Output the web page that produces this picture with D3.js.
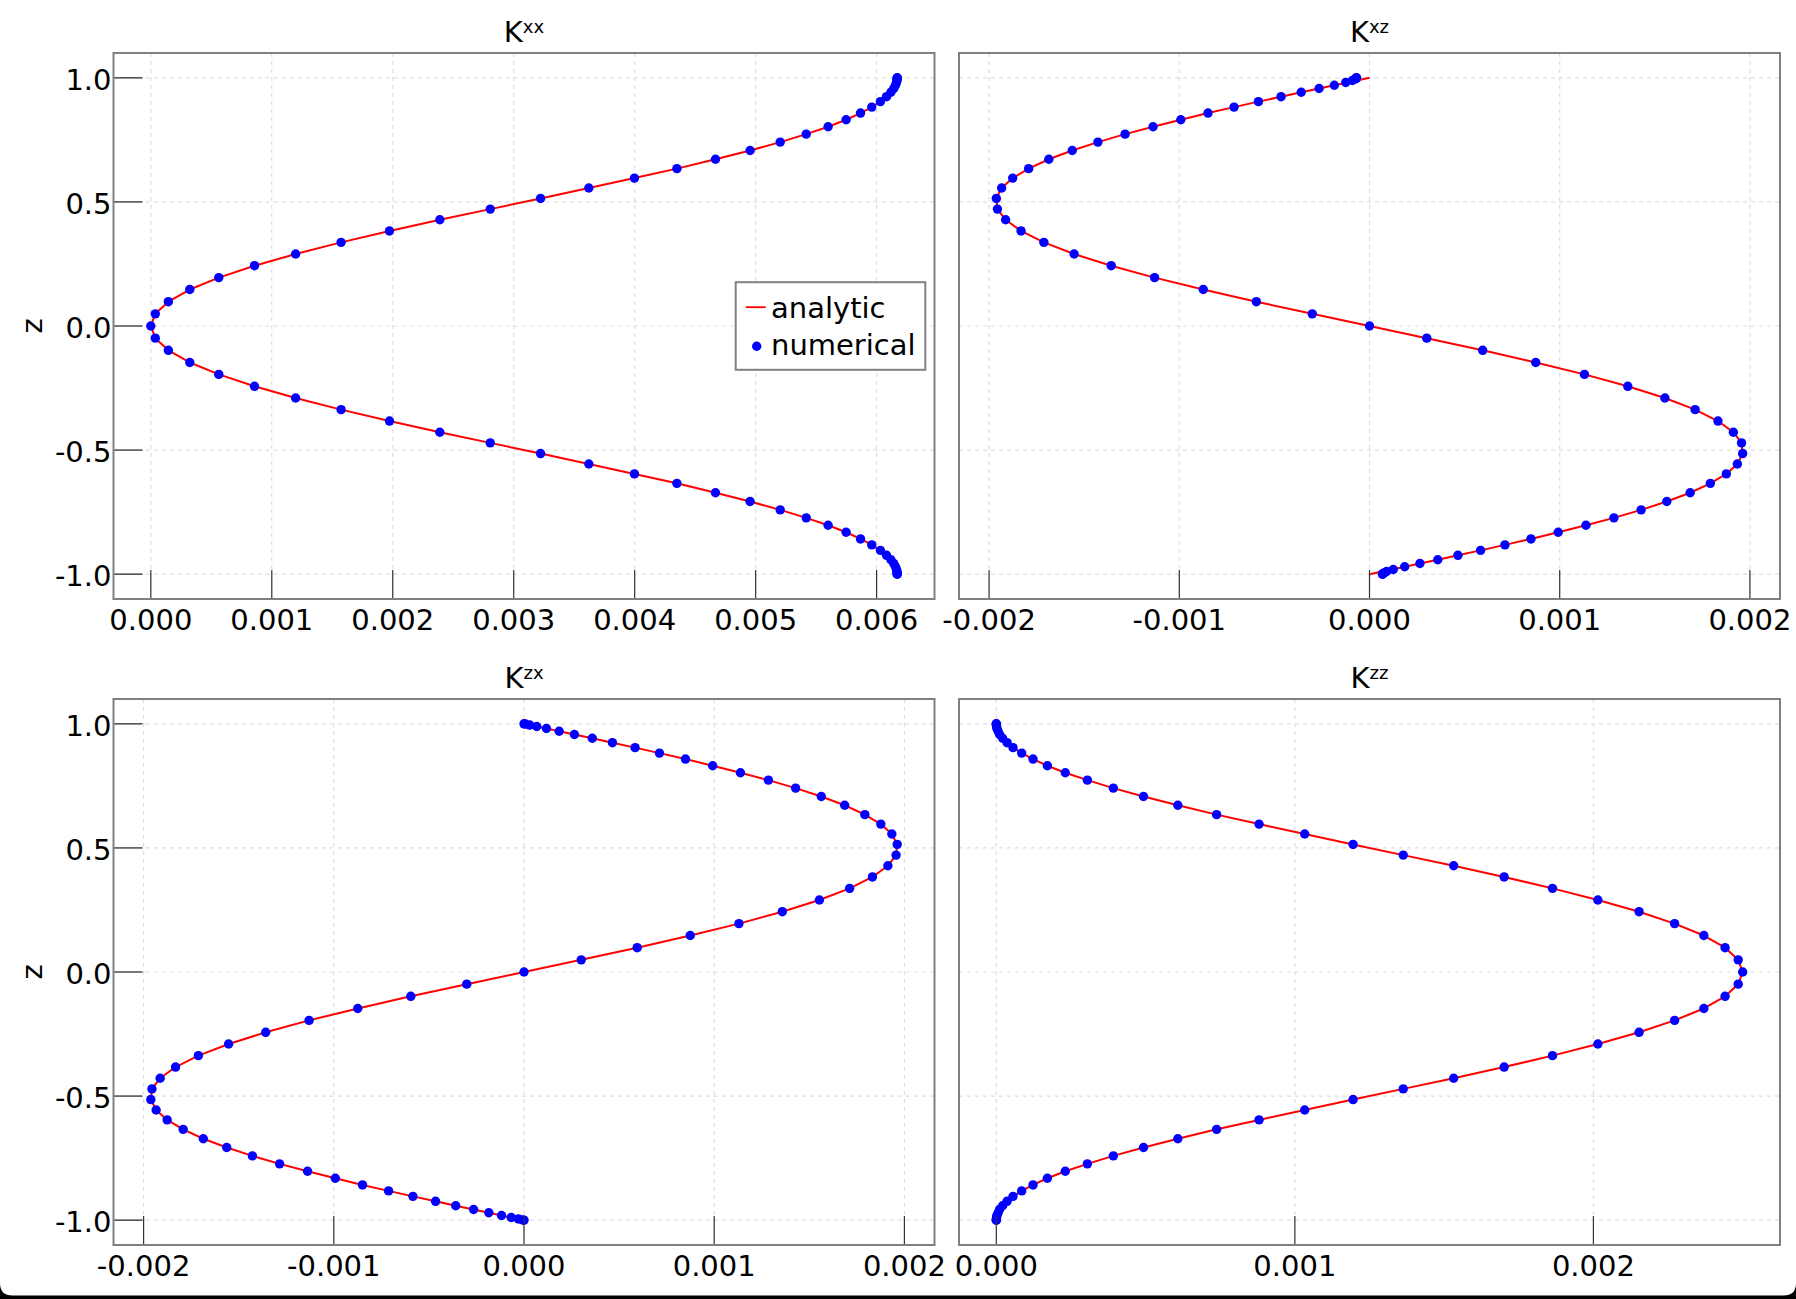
<!DOCTYPE html>
<html>
<head>
<meta charset="utf-8">
<script src="https://cdn.jsdelivr.net/npm/d3@7"></script>
<style>
body { margin: 0; background: #fff; }
svg { display: block; font-family: "DejaVu Sans", sans-serif; }
</style>
</head>
<body>
<svg id="chart" width="1796" height="1299"></svg>
<script>
// iffy wrapper
(function() {

// z of the grid points, shared by all four panels (top to bottom)
const zGrid = [
    1.000, 0.999, 0.995, 0.989, 0.981, 0.970, 0.957, 0.942, 0.924, 0.904, 0.882,
    0.858, 0.831, 0.803, 0.773, 0.741, 0.707, 0.672, 0.634, 0.596, 0.556, 0.514,
    0.471, 0.428, 0.383, 0.337, 0.290, 0.243, 0.195, 0.147, 0.098, 0.049, 0.000,
    -0.049, -0.098, -0.147, -0.195, -0.243, -0.290, -0.337, -0.383, -0.428, -0.471,
    -0.514, -0.556, -0.596, -0.634, -0.672, -0.707, -0.741, -0.773, -0.803, -0.831,
    -0.858, -0.882, -0.904, -0.924, -0.942, -0.957, -0.970, -0.981, -0.989, -0.995,
    -0.999, -1.000
];

// analytic values, in units of 1e-3
const kxxAnalytic = [
    6.170, 6.170, 6.170, 6.168, 6.164, 6.156, 6.142, 6.118, 6.082, 6.031, 5.960,
    5.867, 5.748, 5.599, 5.418, 5.203, 4.954, 4.668, 4.349, 3.998, 3.621, 3.222,
    2.806, 2.389, 1.973, 1.573, 1.197, 0.857, 0.562, 0.322, 0.145, 0.037, 0.000,
    0.037, 0.145, 0.322, 0.562, 0.857, 1.197, 1.573, 1.973, 2.389, 2.806, 3.222,
    3.621, 3.998, 4.349, 4.668, 4.954, 5.203, 5.418, 5.599, 5.748, 5.867, 5.960,
    6.031, 6.082, 6.118, 6.142, 6.156, 6.164, 6.168, 6.170, 6.170, 6.170
];
const kxzAnalytic = [
    0.000, -0.007, -0.030, -0.067, -0.118, -0.185, -0.265, -0.359, -0.465, -0.584, -0.712,
    -0.849, -0.992, -1.138, -1.285, -1.428, -1.563, -1.686, -1.792, -1.876, -1.934, -1.962,
    -1.956, -1.913, -1.832, -1.712, -1.553, -1.358, -1.130, -0.874, -0.595, -0.301, 0.000,
    0.301, 0.595, 0.874, 1.130, 1.358, 1.553, 1.712, 1.832, 1.913, 1.956, 1.962,
    1.934, 1.876, 1.792, 1.686, 1.563, 1.428, 1.285, 1.138, 0.992, 0.849, 0.712,
    0.584, 0.465, 0.359, 0.265, 0.185, 0.118, 0.067, 0.030, 0.007, 0.000
];
const kzxAnalytic = [
    0.000, 0.007, 0.030, 0.067, 0.118, 0.185, 0.265, 0.359, 0.465, 0.584, 0.712,
    0.849, 0.992, 1.138, 1.285, 1.428, 1.563, 1.686, 1.792, 1.876, 1.934, 1.962,
    1.956, 1.913, 1.832, 1.712, 1.553, 1.358, 1.130, 0.874, 0.595, 0.301, 0.000,
    -0.301, -0.595, -0.874, -1.130, -1.358, -1.553, -1.712, -1.832, -1.913, -1.956, -1.962,
    -1.934, -1.876, -1.792, -1.686, -1.563, -1.428, -1.285, -1.138, -0.992, -0.849, -0.712,
    -0.584, -0.465, -0.359, -0.265, -0.185, -0.118, -0.067, -0.030, -0.007, 0.000
];
const kzzAnalytic = [
    0.000, 0.000, 0.000, 0.001, 0.002, 0.006, 0.011, 0.021, 0.036, 0.056, 0.085,
    0.123, 0.171, 0.231, 0.305, 0.392, 0.493, 0.608, 0.738, 0.880, 1.033, 1.195,
    1.363, 1.532, 1.701, 1.863, 2.015, 2.153, 2.272, 2.370, 2.441, 2.485, 2.500,
    2.485, 2.441, 2.370, 2.272, 2.153, 2.015, 1.863, 1.701, 1.532, 1.363, 1.195,
    1.033, 0.880, 0.738, 0.608, 0.493, 0.392, 0.305, 0.231, 0.171, 0.123, 0.085,
    0.056, 0.036, 0.021, 0.011, 0.006, 0.002, 0.001, 0.000, 0.000, 0.000
];

// numerical values, in units of 1e-3
// (they sit on the analytic curve, except kxz next to the walls)
const kxxNumerical = kxxAnalytic;
const kxzNumerical = [
    -0.068, -0.070, -0.076, -0.090, -0.125, -0.185, -0.265, -0.359, -0.465, -0.584, -0.712,
    -0.849, -0.992, -1.138, -1.285, -1.428, -1.563, -1.686, -1.792, -1.876, -1.934, -1.962,
    -1.956, -1.913, -1.832, -1.712, -1.553, -1.358, -1.130, -0.874, -0.595, -0.301, 0.000,
    0.301, 0.595, 0.874, 1.130, 1.358, 1.553, 1.712, 1.832, 1.913, 1.956, 1.962,
    1.934, 1.876, 1.792, 1.686, 1.563, 1.428, 1.285, 1.138, 0.992, 0.849, 0.712,
    0.584, 0.465, 0.359, 0.265, 0.185, 0.125, 0.090, 0.076, 0.070, 0.068
];
const kzxNumerical = kzxAnalytic;
const kzzNumerical = kzzAnalytic;

// tick values
const ticksXX = [0, 0.001, 0.002, 0.003, 0.004, 0.005, 0.006];
const ticksSym = [-0.002, -0.001, 0, 0.001, 0.002];
const ticksZZ = [0, 0.001, 0.002];
const ticksZ = [-1, -0.5, 0, 0.5, 1];

const legendLabels = ['analytic', 'numerical'];

const UNIT = 1e-3;

// panel geometry
const colLeft = [113.5, 959],
      rowTop = [53, 699],
      panelW = 821,
      panelH = 546;

const panels = [
    {title: ['K', 'xx'], analytic: kxxAnalytic, numerical: kxxNumerical, ticks: ticksXX, row: 0, col: 0, legend: true},
    {title: ['K', 'xz'], analytic: kxzAnalytic, numerical: kxzNumerical, ticks: ticksSym, row: 0, col: 1},
    {title: ['K', 'zx'], analytic: kzxAnalytic, numerical: kzxNumerical, ticks: ticksSym, row: 1, col: 0},
    {title: ['K', 'zz'], analytic: kzzAnalytic, numerical: kzzNumerical, ticks: ticksZZ, row: 1, col: 1}
];

var svg = d3.select('#chart');

svg.append('rect')
    .attr('width', 1796)
    .attr('height', 1299)
    .attr('fill', '#fff');

panels.forEach(drawPanel);

// window edge at the bottom of the screenshot
svg.append('path')
    .attr('d', 'M0,1283 Q0,1295.5 12.5,1295.5 L1783.5,1295.5 Q1796,1295.5 1796,1283 L1796,1299 L0,1299 Z')
    .attr('fill', '#000');


function toPoints(values) {
    return values.map(function(v, i) { return {x: v * UNIT, z: zGrid[i]}; });
}

// data extent plus 5% on each side
function padded(values) {
    var e = d3.extent(values);
    var m = (e[1] - e[0]) * 0.05;
    return [e[0] - m, e[1] + m];
}

function drawPanel(p) {

    var g = svg.append('g')
        .attr('transform', 'translate(' + colLeft[p.col] + ',' + rowTop[p.row] + ')');

    var ana = toPoints(p.analytic),
        num = toPoints(p.numerical);

    var x = d3.scaleLinear()
        .domain(padded(ana.concat(num).map(function(d) { return d.x; })))
        .range([0, panelW]);

    var y = d3.scaleLinear()
        .domain(padded(zGrid))
        .range([panelH, 0]);

    // dashed grid
    var grid = g.append('g')
        .attr('stroke', '#dedede')
        .attr('stroke-width', 1.2)
        .attr('stroke-dasharray', '4,4');

    grid.selectAll('.gx')
        .data(p.ticks)
      .enter().append('line')
        .attr('x1', function(d) { return x(d); })
        .attr('x2', function(d) { return x(d); })
        .attr('y1', 0)
        .attr('y2', panelH);

    grid.selectAll('.gy')
        .data(ticksZ)
      .enter().append('line')
        .attr('x1', 0)
        .attr('x2', panelW)
        .attr('y1', function(d) { return y(d); })
        .attr('y2', function(d) { return y(d); });

    // analytic curve
    var line = d3.line()
        .x(function(d) { return x(d.x); })
        .y(function(d) { return y(d.z); });

    g.append('path')
        .datum(ana)
        .attr('d', line)
        .attr('fill', 'none')
        .attr('stroke', '#ff0000')
        .attr('stroke-width', 2)
        .attr('stroke-linejoin', 'round');

    // numerical points
    g.selectAll('.dot')
        .data(num)
      .enter().append('circle')
        .attr('class', 'dot')
        .attr('cx', function(d) { return x(d.x); })
        .attr('cy', function(d) { return y(d.z); })
        .attr('r', 4.7)
        .attr('fill', '#0000ff');

    // x ticks point inward from the bottom
    g.selectAll('.tx')
        .data(p.ticks)
      .enter().append('line')
        .attr('x1', function(d) { return x(d); })
        .attr('x2', function(d) { return x(d); })
        .attr('y1', panelH)
        .attr('y2', panelH - 29)
        .attr('stroke', '#333')
        .attr('stroke-width', 1.2);

    g.selectAll('.lx')
        .data(p.ticks)
      .enter().append('text')
        .attr('x', function(d) { return x(d); })
        .attr('y', panelH + 31)
        .attr('text-anchor', 'middle')
        .attr('font-size', 29)
        .text(function(d) { return d.toFixed(3); });

    if (p.col === 0) {
        g.selectAll('.ty')
            .data(ticksZ)
          .enter().append('line')
            .attr('x1', 0)
            .attr('x2', 29)
            .attr('y1', function(d) { return y(d); })
            .attr('y2', function(d) { return y(d); })
            .attr('stroke', '#555')
            .attr('stroke-width', 1.6);

        g.selectAll('.ly')
            .data(ticksZ)
          .enter().append('text')
            .attr('x', -2)
            .attr('y', function(d) { return y(d) + 12; })
            .attr('text-anchor', 'end')
            .attr('font-size', 29)
            .text(function(d) { return d.toFixed(1); });

        g.append('text')
            .attr('transform', 'translate(-71.5,' + (panelH / 2) + ') rotate(-90)')
            .attr('text-anchor', 'middle')
            .attr('font-size', 29)
            .text('z');
    }

    // frame
    g.append('rect')
        .attr('width', panelW)
        .attr('height', panelH)
        .attr('fill', 'none')
        .attr('stroke', '#808080')
        .attr('stroke-width', 2);

    // title with superscript
    var title = g.append('text')
        .attr('x', panelW / 2)
        .attr('y', -11)
        .attr('text-anchor', 'middle')
        .attr('font-size', 29);
    title.append('tspan').text(p.title[0]);
    title.append('tspan')
        .attr('font-size', 18)
        .attr('dy', -9.5)
        .text(p.title[1]);

    if (p.legend) drawLegend(g);
}

function drawLegend(g) {

    var boxW = 189.6, boxH = 87.6;
    var lg = g.append('g')
        .attr('transform', 'translate(' + (panelW - 9.2 - boxW) + ',' + (panelH / 2 - boxH / 2) + ')');

    lg.append('rect')
        .attr('width', boxW)
        .attr('height', boxH)
        .attr('fill', '#fff')
        .attr('stroke', '#808080')
        .attr('stroke-width', 2);

    lg.append('line')
        .attr('x1', 10)
        .attr('x2', 30)
        .attr('y1', 25)
        .attr('y2', 25)
        .attr('stroke', '#ff0000')
        .attr('stroke-width', 1.8);

    lg.append('circle')
        .attr('cx', 21)
        .attr('cy', 64)
        .attr('r', 4.7)
        .attr('fill', '#0000ff');

    lg.selectAll('.entry')
        .data(legendLabels)
      .enter().append('text')
        .attr('x', 35.3)
        .attr('y', function(d, i) { return 36 + i * 37.3; })
        .attr('font-size', 29)
        .text(function(d) { return d; });
}

})(); // end iffy
</script>
</body>
</html>
